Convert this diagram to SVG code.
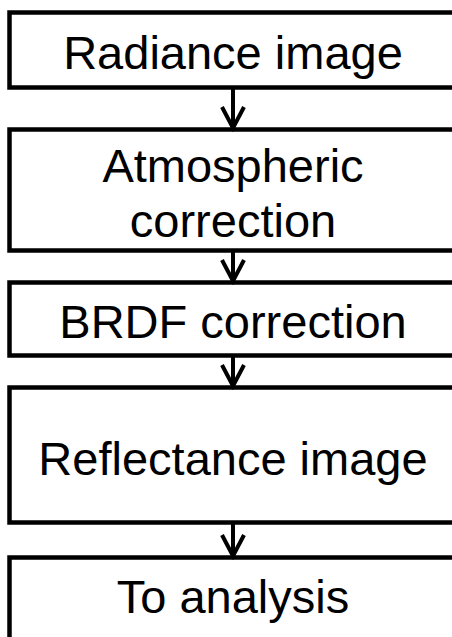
<svg xmlns="http://www.w3.org/2000/svg" width="452" height="637" viewBox="0 0 452 637">
  <style>
    .box { fill: #ffffff; stroke: #000000; stroke-width: 4.5; }
    .label { font-family: "Liberation Sans", Arial, sans-serif; font-size: 47px; fill: #000000; text-anchor: middle; }
    .link { stroke: #000000; stroke-width: 4; fill: none; }
  </style>
  <defs>
    <marker id="chevron" markerUnits="userSpaceOnUse" markerWidth="30" markerHeight="30" refX="0" refY="0" orient="auto" overflow="visible">
      <path d="M-21,-11 L0,0 L-21,11" fill="none" stroke="#000000" stroke-width="4" stroke-linejoin="miter"/>
    </marker>
  </defs>
  <rect width="452" height="637" fill="#ffffff"/>

  <g id="radiance-image">
    <rect class="box" x="9.5" y="12.5" width="470" height="75"/>
    <text class="label" x="233" y="69">Radiance image</text>
  </g>

  <g id="atmospheric-correction">
    <rect class="box" x="9.5" y="129.5" width="470" height="121"/>
    <text class="label" x="233" y="182">Atmospheric</text>
    <text class="label" x="233" y="237">correction</text>
  </g>

  <g id="brdf-correction">
    <rect class="box" x="9.5" y="282.5" width="470" height="73"/>
    <text class="label" x="233" y="338">BRDF correction</text>
  </g>

  <g id="reflectance-image">
    <rect class="box" x="9.5" y="387.5" width="470" height="135"/>
    <text class="label" x="233" y="475">Reflectance image</text>
  </g>

  <g id="to-analysis">
    <rect class="box" x="9.5" y="557.5" width="470" height="120"/>
    <text class="label" x="233" y="613">To analysis</text>
  </g>

  <g id="connectors">
    <line class="link" x1="233" y1="87.5" x2="233" y2="128" marker-end="url(#chevron)"/>
    <line class="link" x1="233" y1="250.5" x2="233" y2="281" marker-end="url(#chevron)"/>
    <line class="link" x1="233" y1="355.5" x2="233" y2="386" marker-end="url(#chevron)"/>
    <line class="link" x1="233" y1="522.5" x2="233" y2="556" marker-end="url(#chevron)"/>
  </g>
</svg>
